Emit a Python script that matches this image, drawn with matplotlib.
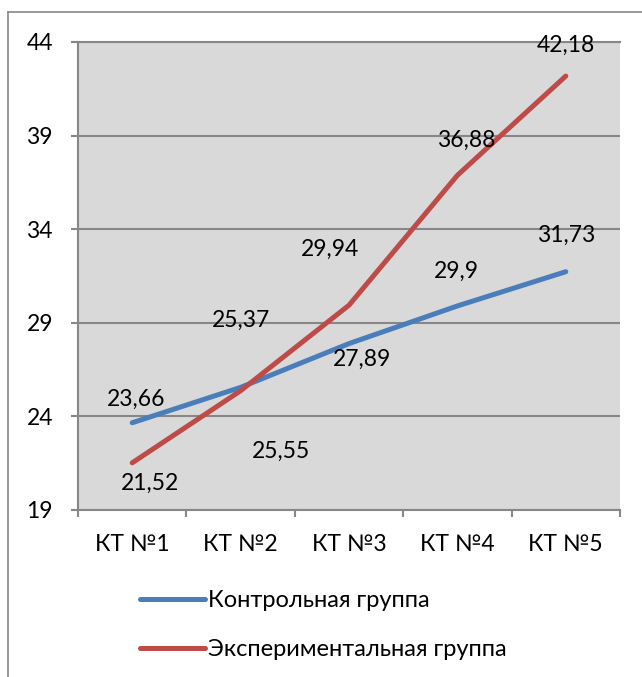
import matplotlib.pyplot as plt
from matplotlib.lines import Line2D

categories = ["КТ №1", "КТ №2", "КТ №3", "КТ №4", "КТ №5"]
control = [23.66, 25.55, 27.89, 29.9, 31.73]
experiment = [21.52, 25.37, 29.94, 36.88, 42.18]
y_ticks = [19, 24, 29, 34, 39, 44]

# label offsets in points (placement)
control_offsets = [(3, 17), (29, -46), (9, -11), (-1, 25), (0, 26)]
experiment_offsets = [(13, -15), (0, 51), (-14, 40), (6, 25), (0, 22)]

plt.rcParams["font.family"] = ["Lato", "DejaVu Sans"]
fs = 16.5

blue = "#4a7ebb"
red = "#be4b48"
grey = "#878787"

fig = plt.figure(figsize=(6.42, 6.77), dpi=100)
ax = fig.add_axes([78 / 642, 1 - 510 / 677, 542 / 642, 468 / 677])
ax.set_facecolor("#d9d9d9")

x = list(range(1, len(categories) + 1))
ax.plot(x, control, color=blue, lw=3.6, solid_capstyle="round", label="Контрольная группа", zorder=3)
ax.plot(x, experiment, color=red, lw=3.6, solid_capstyle="round", label="Экспериментальная группа", zorder=3)

for xi, v, off in zip(x, control, control_offsets):
    ax.annotate(f"{v:g}".replace(".", ","), (xi, v), xytext=off, textcoords="offset points",
                ha="center", va="center", fontsize=fs, zorder=4)
for xi, v, off in zip(x, experiment, experiment_offsets):
    ax.annotate(f"{v:g}".replace(".", ","), (xi, v), xytext=off, textcoords="offset points",
                ha="center", va="center", fontsize=fs, zorder=4)

ax.set_xlim(0.5, len(categories) + 0.5)
ax.set_ylim(19, 44)
ax.set_yticks(y_ticks)
ax.set_yticklabels([str(t) for t in y_ticks], fontsize=fs)
ax.yaxis.grid(True, color=grey, lw=1.5)
ax.set_axisbelow(True)

ax.set_xticks(x)
ax.set_xticklabels(categories, fontsize=fs)
ax.set_xticks([i + 0.5 for i in range(len(categories) + 1)], minor=True)
ax.tick_params(axis="x", which="major", length=0, pad=17)
ax.tick_params(axis="x", which="minor", length=5, color=grey, width=1.5)
ax.tick_params(axis="y", length=5, color=grey, width=1.5, pad=13)

ax.spines["right"].set_visible(False)
for side in ["left", "bottom", "top"]:
    ax.spines[side].set_color(grey)
    ax.spines[side].set_linewidth(1.5)

fig.legend(loc="center left", bbox_to_anchor=(140 / 642, 1 - 625 / 677), frameon=False,
           fontsize=17, handlelength=2.75, handletextpad=0.12, labelspacing=1.2,
           borderpad=0, borderaxespad=0)

# outer frame of the chart (cropped on the right and bottom)
fig.add_artist(Line2D([8 / 642, 8 / 642], [0, 1 - 12 / 677], color=grey, lw=1.2, transform=fig.transFigure))
fig.add_artist(Line2D([8 / 642, 1], [1 - 12 / 677, 1 - 12 / 677], color=grey, lw=1.2, transform=fig.transFigure))

fig.savefig("out.png", dpi=100)
